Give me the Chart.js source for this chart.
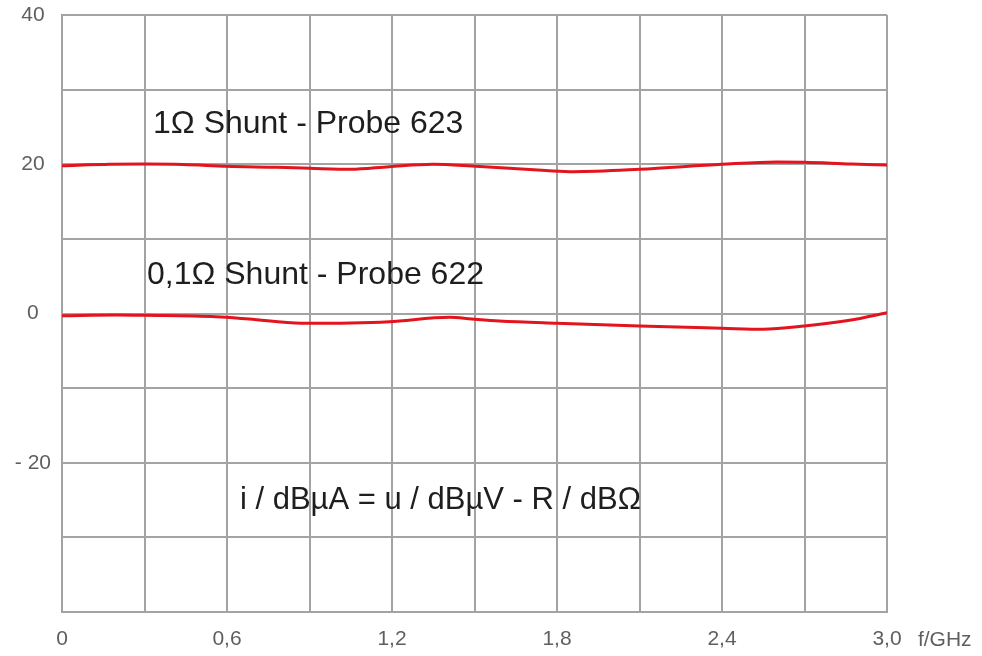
<!DOCTYPE html>
<html>
<head>
<meta charset="utf-8">
<script src="https://cdn.jsdelivr.net/npm/chart.js@4"></script>
<style>
  html, body { margin: 0; padding: 0; background: #ffffff; }
  #wrap { width: 982px; height: 656px; }
</style>
</head>
<body>
<div id="wrap"><canvas id="c" width="982" height="656"></canvas></div>
<script>
// Frequency in GHz
const freqUpper = [0, 0.175, 0.3, 0.44, 0.6, 0.78, 0.9, 1.05, 1.19, 1.35, 1.49, 1.76, 1.86, 2.1, 2.4, 2.6, 2.7, 2.87, 3.0];
const probe623 = [19.81, 19.99, 20.03, 19.97, 19.73, 19.59, 19.46, 19.32, 19.67, 19.99, 19.77, 19.16, 19.0, 19.32, 19.99, 20.3, 20.26, 20.03, 19.9];

const freqLower = [0, 0.2, 0.3, 0.56, 0.68, 0.87, 1.05, 1.19, 1.41, 1.49, 1.59, 1.8, 2.1, 2.4, 2.55, 2.7, 2.87, 3.0];
const probe622 = [-0.3, -0.2, -0.24, -0.43, -0.74, -1.31, -1.27, -1.1, -0.51, -0.74, -1.0, -1.31, -1.68, -1.98, -2.12, -1.68, -0.87, 0.1];

const xTickLabels = ['0', '', '0,6', '', '1,2', '', '1,8', '', '2,4', '', '3,0'];
const yTickLabels = {40: '40', 20: '20', 0: '0', '-20': '- 20'};
const xAxisUnit = 'f/GHz';

const annotations = [
  { text: '1\u03A9 Shunt - Probe 623', x: 0.331, y: 25.4, size: 32 },
  { text: '0,1\u03A9 Shunt - Probe 622', x: 0.309, y: 5.16, size: 32 },
  { text: 'i / dB\u00B5A = u / dB\u00B5V - R / dB\u03A9', x: 0.647, y: -25.0, size: 31 }
];

const toXY = (xs, ys) => xs.map((x, i) => ({ x: x, y: ys[i] }));

const textPlugin = {
  id: 'texts',
  afterDatasetsDraw(chart) {
    const ctx = chart.ctx;
    const xs = chart.scales.x, ys = chart.scales.y;
    ctx.save();
    ctx.fillStyle = '#1e1e1e';
    ctx.textBaseline = 'middle';
    ctx.textAlign = 'left';
    annotations.forEach(a => {
      ctx.font = a.size + 'px "Liberation Sans", Arial, sans-serif';
      ctx.fillText(a.text, xs.getPixelForValue(a.x), ys.getPixelForValue(a.y));
    });
    ctx.fillStyle = '#5f5f5f';
    ctx.font = '21px "Liberation Sans", Arial, sans-serif';
    ctx.textAlign = 'center';
    ctx.fillText(xAxisUnit, xs.getPixelForValue(3.21), xs.top + 28);
    ctx.restore();
  }
};

const gridColor = '#a3a3a3';

new Chart(document.getElementById('c'), {
  type: 'line',
  data: {
    datasets: [
      { data: toXY(freqUpper, probe623), borderColor: '#e3141e', borderWidth: 3, pointRadius: 0, cubicInterpolationMode: 'monotone', fill: false },
      { data: toXY(freqLower, probe622), borderColor: '#e3141e', borderWidth: 3, pointRadius: 0, cubicInterpolationMode: 'monotone', fill: false }
    ]
  },
  options: {
    responsive: false,
    animation: false,
    layout: { padding: { left: 0, right: 95, top: 15, bottom: 0 } },
    plugins: { legend: { display: false }, tooltip: { enabled: false } },
    scales: {
      x: {
        type: 'linear', min: 0, max: 3,
        afterFit(s) { s.height = 44; s.paddingLeft = 0; s.paddingRight = 0; },
        grid: { color: gridColor, lineWidth: 2, drawTicks: false },
        border: { color: gridColor, width: 2 },
        ticks: {
          stepSize: 0.3, autoSkip: false, maxRotation: 0, padding: 15,
          color: '#5f5f5f', font: { family: '"Liberation Sans", Arial, sans-serif', size: 21 },
          callback: (v, i) => xTickLabels[i]
        }
      },
      y: {
        min: -40, max: 40,
        afterFit(s) { s.width = 62; s.paddingTop = 0; s.paddingBottom = 0; },
        grid: { color: gridColor, lineWidth: 2, drawTicks: false },
        border: { color: gridColor, width: 2 },
        ticks: {
          stepSize: 10, autoSkip: false, padding: 11, crossAlign: 'center',
          color: '#5f5f5f', font: { family: '"Liberation Sans", Arial, sans-serif', size: 21 },
          callback: (v) => (yTickLabels[v] !== undefined ? yTickLabels[v] : '')
        }
      }
    }
  },
  plugins: [textPlugin]
});
</script>
</body>
</html>
